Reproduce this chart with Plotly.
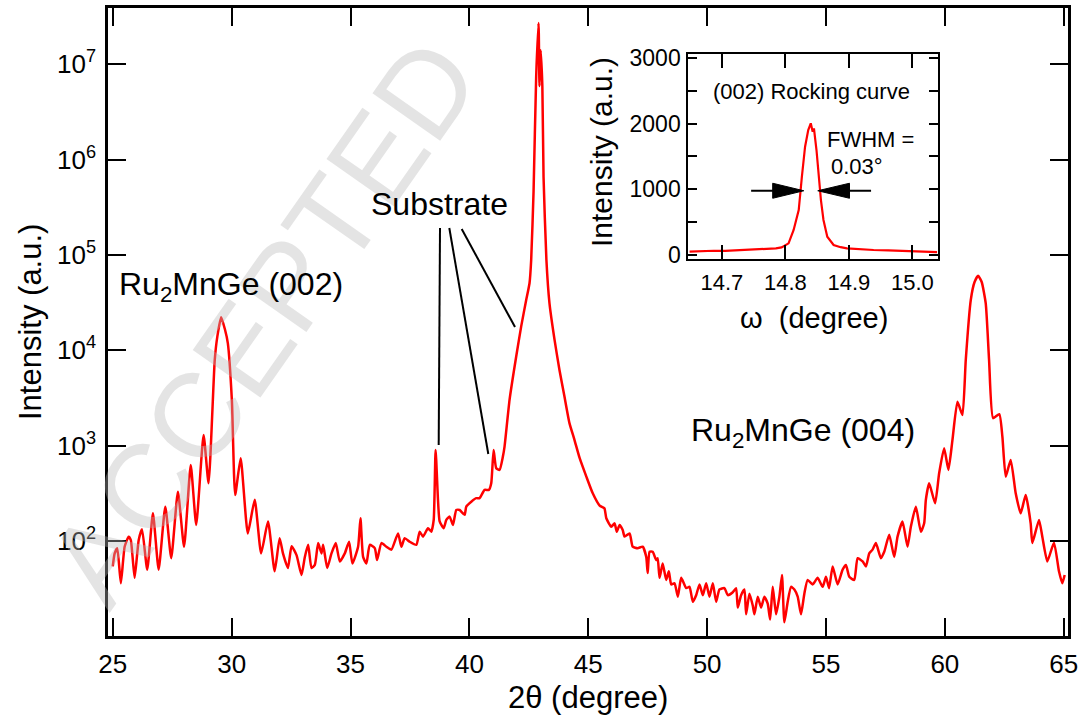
import plotly.graph_objects as go

# ---------------- data ----------------
two_theta = [25.00, 25.08, 25.19, 25.34, 25.50, 25.67, 25.76, 25.92, 26.09, 26.23,
             26.45, 26.69, 26.93, 27.21, 27.46, 27.74, 28.00, 28.28, 28.51, 28.82,
             29.03, 29.29, 29.40, 29.56, 29.72, 29.84, 30.01, 30.15, 30.38, 30.68,
             30.97, 31.24, 31.53, 31.81, 32.02, 32.16, 32.37, 32.52, 32.73, 32.94,
             33.08, 33.22, 33.36, 33.50, 33.64, 33.78, 33.85, 34.02, 34.20, 34.38,
             34.55, 34.76, 34.94, 35.08, 35.32, 35.42, 35.53, 35.67, 35.81, 36.02,
             36.12, 36.30, 36.51, 36.72, 37.00, 37.14, 37.28, 37.49, 37.77, 37.91,
             38.05, 38.26, 38.40, 38.50, 38.58, 38.68, 38.75, 38.92, 39.03, 39.17,
             39.31, 39.45, 39.59, 39.80, 39.87, 40.08, 40.29, 40.43, 40.64, 40.82,
             40.92, 41.02, 41.13, 41.27, 41.41, 41.48, 41.69, 41.97, 42.18, 42.39,
             42.53, 42.60, 42.70, 42.81, 42.91, 42.95, 43.00, 43.07, 43.12, 43.24,
             43.37, 43.58, 43.79, 44.00, 44.21, 44.42, 44.64, 44.92, 45.19, 45.48,
             45.68, 45.76, 45.97, 46.11, 46.20, 46.32, 46.45, 46.53, 46.74, 46.87,
             47.08, 47.29, 47.44, 47.50, 47.58, 47.71, 47.86, 47.92, 48.00, 48.13,
             48.28, 48.39, 48.49, 48.63, 48.77, 48.91, 49.12, 49.26, 49.40, 49.54,
             49.68, 49.82, 49.96, 50.10, 50.24, 50.38, 50.52, 50.73, 50.87, 51.08,
             51.22, 51.29, 51.43, 51.57, 51.64, 51.78, 51.92, 51.99, 52.13, 52.27,
             52.41, 52.55, 52.65, 52.76, 52.90, 53.04, 53.15, 53.25, 53.39, 53.53,
             53.67, 53.81, 53.95, 54.09, 54.23, 54.44, 54.65, 54.86, 55.00, 55.13,
             55.28, 55.49, 55.70, 55.84, 55.98, 56.19, 56.33, 56.54, 56.68, 56.82,
             56.96, 57.10, 57.31, 57.45, 57.66, 57.87, 58.01, 58.22, 58.43, 58.57,
             58.78, 58.99, 59.13, 59.20, 59.34, 59.59, 59.76, 59.97, 60.15, 60.32,
             60.53, 60.74, 60.88, 61.09, 61.25, 61.40, 61.55, 61.72, 61.86, 62.03,
             62.29, 62.42, 62.56, 62.77, 62.98, 63.19, 63.40, 63.61, 63.68, 63.96,
             64.10, 64.31, 64.59, 64.80, 64.94, 65.04]

intensity = [54, 74, 84, 36, 87, 111, 102, 41, 102, 133,
             50, 195, 50, 229, 66, 329, 87, 627, 147, 1294,
             403, 7940, 14000, 22200, 16500, 11900, 3020, 304, 738, 120,
             270, 74, 160, 48, 107, 74, 52, 88, 71, 44,
             68, 91, 52, 56, 95, 74, 91, 52, 74, 95,
             61, 74, 98, 58, 87, 173, 68, 58, 91, 84,
             63, 95, 87, 81, 120, 87, 107, 98, 91, 125,
             111, 136, 125, 166, 902, 269, 160, 136, 166, 180,
             147, 211, 211, 188, 229, 258, 281, 281, 343, 343,
             403, 900, 580, 556, 767, 977, 3020, 8590, 17800, 33600,
             50500, 88500, 462000, 7400000, 27000000, 5900000, 14000000, 5900000, 660000, 89000,
             31000, 13000, 6220, 3270, 1720, 1150, 738, 473, 316, 235,
             220, 173, 141, 153, 125, 147, 130, 111, 120, 87,
             84, 87, 68, 46, 77, 77, 63, 66, 41, 58,
             39, 48, 35, 36, 26, 41, 32, 33, 23, 27,
             35, 27, 36, 26, 36, 23, 31, 32, 27, 29,
             32, 20, 27, 31, 17, 28, 21, 17, 26, 20,
             26, 22, 15, 33, 17, 26, 44, 14, 23, 33,
             31, 26, 17, 28, 39, 35, 41, 33, 42, 32,
             54, 35, 50, 56, 42, 39, 66, 61, 54, 74,
             81, 95, 66, 77, 116, 68, 111, 160, 87, 141,
             229, 125, 153, 269, 403, 249, 513, 940, 556, 1150,
             2880, 2090, 7940, 33600, 52000, 60300, 52000, 31000, 7940, 1940,
             2140, 1240, 473, 708, 316, 195, 304, 153, 95, 166,
             111, 61, 96, 48, 36, 44]

# rocking curve (inset)
omega = [14.649, 14.665, 14.687, 14.705, 14.722, 14.739, 14.755, 14.771, 14.785, 14.794,
         14.805, 14.813, 14.821, 14.826, 14.831, 14.836, 14.840, 14.843, 14.845, 14.849,
         14.852, 14.856, 14.860, 14.866, 14.876, 14.887, 14.897, 14.915, 14.939, 14.962,
         14.991, 15.015, 15.039]
rc_intensity = [45, 52, 58, 55, 63, 69, 72, 79, 95, 110,
                171, 375, 680, 1190, 1648, 1904, 2006, 1878, 1930, 1598,
                1242, 833, 528, 272, 145, 112, 95, 80, 69, 62,
                55, 48, 38]

main_xticks = [25, 30, 35, 40, 45, 50, 55, 60, 65]
main_yticks = [1e2, 1e3, 1e4, 1e5, 1e6, 1e7]
main_yticktext = ["10<sup>2</sup>", "10<sup>3</sup>", "10<sup>4</sup>",
                  "10<sup>5</sup>", "10<sup>6</sup>", "10<sup>7</sup>"]
inset_xticks = [14.7, 14.8, 14.9, 15.0]
inset_xticktext = ["14.7", "14.8", "14.9", "15.0"]
inset_yticks = [0, 1000, 2000, 3000]
inset_yminor = [500, 1500, 2500]

# ---------------- layout helpers ----------------
W, H = 1082, 721
ML, MR, MT, MB = 108, 14, 8, 85
PW, PH = W - ML - MR, H - MT - MB


def pxx(x):
    return (x - ML) / PW


def pxy(y):
    return (H - MB - y) / PH


FONT = "Liberation Sans, Arial, Helvetica, sans-serif"

fig = go.Figure()
fig.add_trace(go.Scatter(x=two_theta, y=intensity, mode="lines",
                         line=dict(color="#ff0000", width=2.5, shape="spline", smoothing=0.5),
                         xaxis="x", yaxis="y", showlegend=False))
fig.add_trace(go.Scatter(x=omega, y=rc_intensity, mode="lines",
                         line=dict(color="#ff0000", width=2.2),
                         xaxis="x2", yaxis="y2", showlegend=False))

axis_common = dict(showgrid=False, zeroline=False, showline=True, linecolor="black",
                   ticks="inside", tickcolor="black", mirror="ticks", automargin=False)

fig.update_layout(
    width=W, height=H,
    margin=dict(l=ML, r=MR, t=MT, b=MB, autoexpand=False),
    paper_bgcolor="white", plot_bgcolor="white",
    font=dict(family=FONT, color="black"),
    xaxis=dict(domain=[0, 1], range=[24.8, 65.18], tickvals=main_xticks,
               ticklen=18, tickwidth=2, linewidth=2.5, tickfont=dict(size=26),
               ticklabelstandoff=3, **axis_common),
    yaxis=dict(domain=[0, 1], type="log", range=[1.003, 7.59], tickvals=main_yticks,
               ticktext=main_yticktext, ticklen=18, tickwidth=2, linewidth=2.5,
               tickfont=dict(size=26), ticklabelstandoff=4, **axis_common),
    xaxis2=dict(domain=[pxx(688.3), pxx(937.7)], anchor="y2", range=[14.647, 15.040],
                tickvals=inset_xticks, ticktext=inset_xticktext, ticklen=14, tickwidth=2,
                linewidth=2, tickfont=dict(size=22), ticklabelstandoff=2, **axis_common),
    yaxis2=dict(domain=[pxy(259.3), pxy(54)], anchor="x2", range=[-73, 3066],
                tickvals=inset_yticks, ticklen=9, tickwidth=2,
                minor=dict(tickvals=inset_yminor, ticks="inside", ticklen=9, tickwidth=2,
                           tickcolor="black", showgrid=False),
                linewidth=2, tickfont=dict(size=23), ticklabelstandoff=1, **axis_common),
)

annotations = [
    # watermark
    dict(text="ACCEPTED", x=pxx(262), y=pxy(322), textangle=-55,
         font=dict(size=120, color="rgba(185,185,185,0.38)", family=FONT),
         showarrow=False),
    dict(text="2θ (degree)", x=pxx(588), y=pxy(697), font=dict(size=31), showarrow=False),
    dict(text="Intensity (a.u.)", x=pxx(30), y=pxy(322), textangle=-90,
         font=dict(size=31), showarrow=False),
    dict(text="ω  (degree)", x=pxx(814), y=pxy(318), font=dict(size=29), showarrow=False),
    dict(text="Intensity (a.u.)", x=pxx(602), y=pxy(152), textangle=-90,
         font=dict(size=30), showarrow=False),
    dict(text="Substrate", x=pxx(439), y=pxy(204), font=dict(size=32), showarrow=False),
    dict(text="Ru<sub>2</sub>MnGe (002)", x=pxx(117), y=pxy(286), xanchor="left",
         font=dict(size=32), showarrow=False),
    dict(text="Ru<sub>2</sub>MnGe (004)", x=pxx(689), y=pxy(432), xanchor="left",
         font=dict(size=32), showarrow=False),
    dict(text="(002) Rocking curve", x=pxx(811), y=pxy(91), font=dict(size=22), showarrow=False),
    dict(text="FWHM =", x=pxx(870), y=pxy(139), font=dict(size=22), showarrow=False),
    dict(text="0.03°", x=pxx(857), y=pxy(166), font=dict(size=22), showarrow=False),
]
for a in annotations:
    a.setdefault("xref", "paper")
    a.setdefault("yref", "paper")
    a.setdefault("xanchor", "center")
    a.setdefault("yanchor", "middle")
fig.update_layout(annotations=annotations)

shapes = []
# substrate pointer lines
for (x0, y0, x1, y1) in [(440, 228, 438.7, 445), (449.3, 228, 488.3, 454), (461.7, 229, 515, 327)]:
    shapes.append(dict(type="line", xref="paper", yref="paper",
                       x0=pxx(x0), y0=pxy(y0), x1=pxx(x1), y1=pxy(y1),
                       line=dict(color="black", width=2)))
# FWHM arrows in the inset
ya, hh = 975, 115
shapes += [
    dict(type="line", xref="x2", yref="y2", x0=14.746, y0=ya, x1=14.785, y1=ya,
         line=dict(color="black", width=2)),
    dict(type="path", xref="x2", yref="y2",
         path=f"M 14.780 {ya - hh} L 14.780 {ya + hh} L 14.829 {ya} Z",
         fillcolor="black", line=dict(color="black", width=1)),
    dict(type="line", xref="x2", yref="y2", x0=14.896, y0=ya, x1=14.935, y1=ya,
         line=dict(color="black", width=2)),
    dict(type="path", xref="x2", yref="y2",
         path=f"M 14.901 {ya - hh} L 14.901 {ya + hh} L 14.851 {ya} Z",
         fillcolor="black", line=dict(color="black", width=1)),
]
fig.update_layout(shapes=shapes)

fig.write_html("out.html")
